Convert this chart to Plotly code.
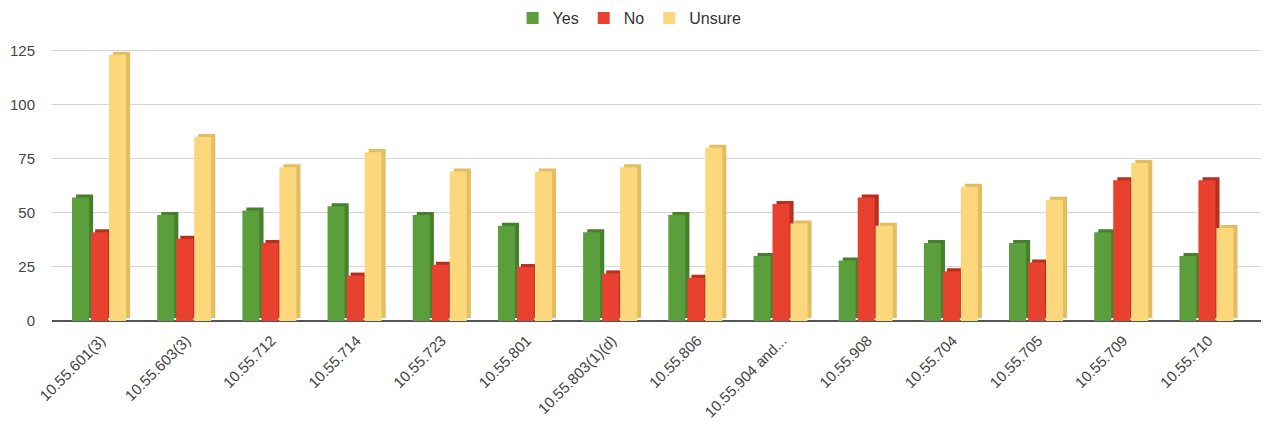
import plotly.graph_objects as go

categories = ["10.55.601(3)", "10.55.603(3)", "10.55.712", "10.55.714", "10.55.723",
              "10.55.801", "10.55.803(1)(d)", "10.55.806", "10.55.904 and...",
              "10.55.908", "10.55.704", "10.55.705", "10.55.709", "10.55.710"]
yes_vals = [57, 49, 51, 53, 49, 44, 41, 49, 30, 28, 36, 36, 41, 30]
no_vals = [41, 38, 36, 21, 26, 25, 22, 20, 54, 57, 23, 27, 65, 65]
unsure_vals = [123, 85, 71, 78, 69, 69, 71, 80, 45, 44, 62, 56, 73, 43]

series = [
    ("Yes", yes_vals, "#5b9e3c", "#467f2d", -0.34),
    ("No", no_vals, "#e8412f", "#b8311f", -0.117),
    ("Unsure", unsure_vals, "#fcd77c", "#e2bd62", 0.094),
]

x_idx = list(range(len(categories)))
width = 0.2
side = 0.048
lift = 1.4

fig = go.Figure()
for name, vals, col, dark, off in series:
    # depth (side/top) face
    fig.add_trace(go.Bar(
        x=x_idx, y=vals, base=lift, offset=off + side, width=width,
        marker=dict(color=dark, line=dict(width=0)),
        showlegend=False, hoverinfo="skip"))
    # front face
    fig.add_trace(go.Bar(
        x=x_idx, y=vals, offset=off, width=width,
        marker=dict(color=col, line=dict(width=0)),
        name=name))

fig.update_layout(
    width=1261, height=420,
    barmode="overlay",
    paper_bgcolor="white", plot_bgcolor="white",
    margin=dict(l=44, r=1, t=38, b=100, autoexpand=False),
    font=dict(family="Liberation Sans, Arial, sans-serif", size=14, color="#444444"),
    legend=dict(orientation="h", x=0.475, xanchor="center", y=1.099, yanchor="middle",
                font=dict(size=16, color="#333333"), itemwidth=30,
                traceorder="normal"),
    xaxis=dict(
        tickmode="array", tickvals=x_idx, ticktext=categories,
        tickangle=-45, range=[-0.575, 13.70], showgrid=False,
        tickfont=dict(size=15, color="#444444"),
        ticks="", showline=False, zeroline=False, automargin=False),
    yaxis=dict(
        range=[-3.2, 127], tickvals=[0, 25, 50, 75, 100, 125],
        gridcolor="#d6d6d6", gridwidth=1, zeroline=True, zerolinecolor="#555555",
        zerolinewidth=2, tickfont=dict(size=15, color="#444444"),
        ticks="outside", ticklen=13, tickcolor="rgba(0,0,0,0)",
        showline=False, automargin=False),
)

fig.write_html("out.html")
